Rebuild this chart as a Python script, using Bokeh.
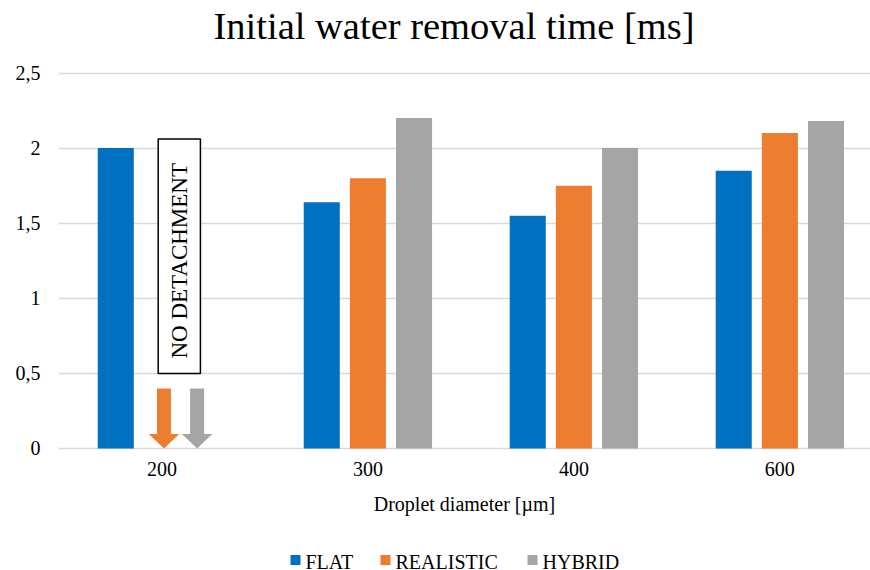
from bokeh.plotting import figure
from bokeh.layouts import column
from bokeh.models import Range1d, FixedTicker
from bokeh.core.properties import value
from bokeh.embed import file_html
from bokeh.resources import INLINE

# Data
categories = ["200", "300", "400", "600"]
flat = [2.0, 1.64, 1.55, 1.85]
realistic = [None, 1.8, 1.75, 2.1]
hybrid = [None, 2.2, 2.0, 2.18]
y_ticks = [0, 0.5, 1, 1.5, 2, 2.5]
y_tick_labels = ["0", "0,5", "1", "1,5", "2", "2,5"]
series_names = ["FLAT", "REALISTIC", "HYBRID"]
colors = ["#0070C0", "#ED7D31", "#A5A5A5"]
# arrows mark the series with no detachment at 200 µm (start value of arrow)
no_detach_category = "200"
arrow_start = 0.4
note_text = "NO DETACHMENT"
note_bottom, note_top = 0.5, 2.06
title_text = "Initial water removal time [ms]"

FONT = "Liberation Serif"
W = 870
LEFT = 58


def blank_strip(height):
    # strip whose x coordinates equal canvas pixels
    f = figure(width=W, height=height, output_backend="svg", toolbar_location=None,
               x_range=Range1d(LEFT, W), y_range=Range1d(0, height),
               x_axis_type=None, y_axis_type=None,
               min_border_left=LEFT, min_border_right=0, min_border_top=0, min_border_bottom=0)
    f.outline_line_color = None
    f.background_fill_color = "white"
    f.border_fill_color = "white"
    return f


# Title strip
head = blank_strip(60)
head.text(x=[213], y=[34.5], text=[title_text], text_align="left", text_baseline="middle",
          text_font=value(FONT), text_font_size="38.5px", text_color="black")

# Main chart
p = figure(width=W, height=462, output_backend="svg", toolbar_location=None,
           x_range=Range1d(-0.502, 3.44), y_range=Range1d(-0.02, 2.55),
           min_border_left=LEFT, min_border_right=0, min_border_top=5,
           min_border_bottom=71)
p.outline_line_color = None
p.background_fill_color = "white"
p.border_fill_color = "white"

xs = list(range(len(categories)))
offset, bar_w = 0.224, 0.175
for k, (vals, col) in enumerate(zip([flat, realistic, hybrid], colors)):
    px = [x + (k - 1) * offset for x, v in zip(xs, vals) if v is not None]
    pv = [v for v in vals if v is not None]
    p.vbar(x=px, top=pv, bottom=0, width=bar_w, fill_color=col, line_color=None)

# Down arrows for the missing series at 200 µm
ci = categories.index(no_detach_category)
arrow_centers = [ci + 0.01, ci + 0.171]
shaft_hw, head_hw, head_len = 0.034, 0.074, 0.097
for cx, col in zip(arrow_centers, colors[1:]):
    ax = [cx - shaft_hw, cx + shaft_hw, cx + shaft_hw, cx + head_hw, cx, cx - head_hw, cx - shaft_hw]
    ay = [arrow_start, arrow_start, head_len, head_len, 0, head_len, head_len]
    p.patch(ax, ay, fill_color=col, line_color=None)

# Note box with vertical text
p.quad(left=ci - 0.018, right=ci + 0.187, bottom=note_bottom, top=note_top,
       fill_color="white", line_color="black", line_width=1.5)
p.text(x=[ci + 0.087], y=[(note_bottom + note_top) / 2 - 0.03], text=[note_text],
       angle=1.5708, text_align="center", text_baseline="middle",
       text_font=value(FONT), text_font_size="23px", text_color="black")

# Grid
p.xgrid.grid_line_color = None
p.ygrid.grid_line_color = "#D9D9D9"
p.ygrid.grid_line_width = 1.5
p.ygrid.ticker = FixedTicker(ticks=y_ticks)

# Axes
p.yaxis.ticker = FixedTicker(ticks=y_ticks)
p.yaxis.major_label_overrides = {t: l for t, l in zip(y_ticks, y_tick_labels)}
p.xaxis.ticker = FixedTicker(ticks=xs)
p.xaxis.major_label_overrides = {x: c for x, c in zip(xs, categories)}
for axis in (p.xaxis, p.yaxis):
    axis.axis_line_color = None
    axis.major_tick_line_color = None
    axis.minor_tick_line_color = None
    axis.major_tick_out = 0
    axis.major_tick_in = 0
    axis.major_label_text_font = FONT
    axis.major_label_text_font_size = "20px"
    axis.major_label_text_color = "black"
p.yaxis.major_label_standoff = 18
p.xaxis.major_label_standoff = 10
p.xaxis.axis_label = "Droplet diameter [µm]"
p.xaxis.axis_label_text_font = FONT
p.xaxis.axis_label_text_font_size = "20px"
p.xaxis.axis_label_text_font_style = "normal"
p.xaxis.axis_label_text_color = "black"
p.xaxis.axis_label_standoff = 14

# Legend strip: colour swatch followed by the series name
foot = blank_strip(48)
swatch_x = [290, 380, 527]
foot.rect(x=[sx + 5 for sx in swatch_x], y=[10.5] * len(swatch_x), width=10, height=10,
          width_units="screen", height_units="screen", fill_color=colors, line_color=None)
foot.text(x=[sx + 15 for sx in swatch_x], y=[8.5] * len(swatch_x), text=series_names,
          text_align="left", text_baseline="middle",
          text_font=value(FONT), text_font_size="20px", text_color="black")

layout = column(head, p, foot, spacing=0)
open("out.html", "w").write(file_html(layout, INLINE))
